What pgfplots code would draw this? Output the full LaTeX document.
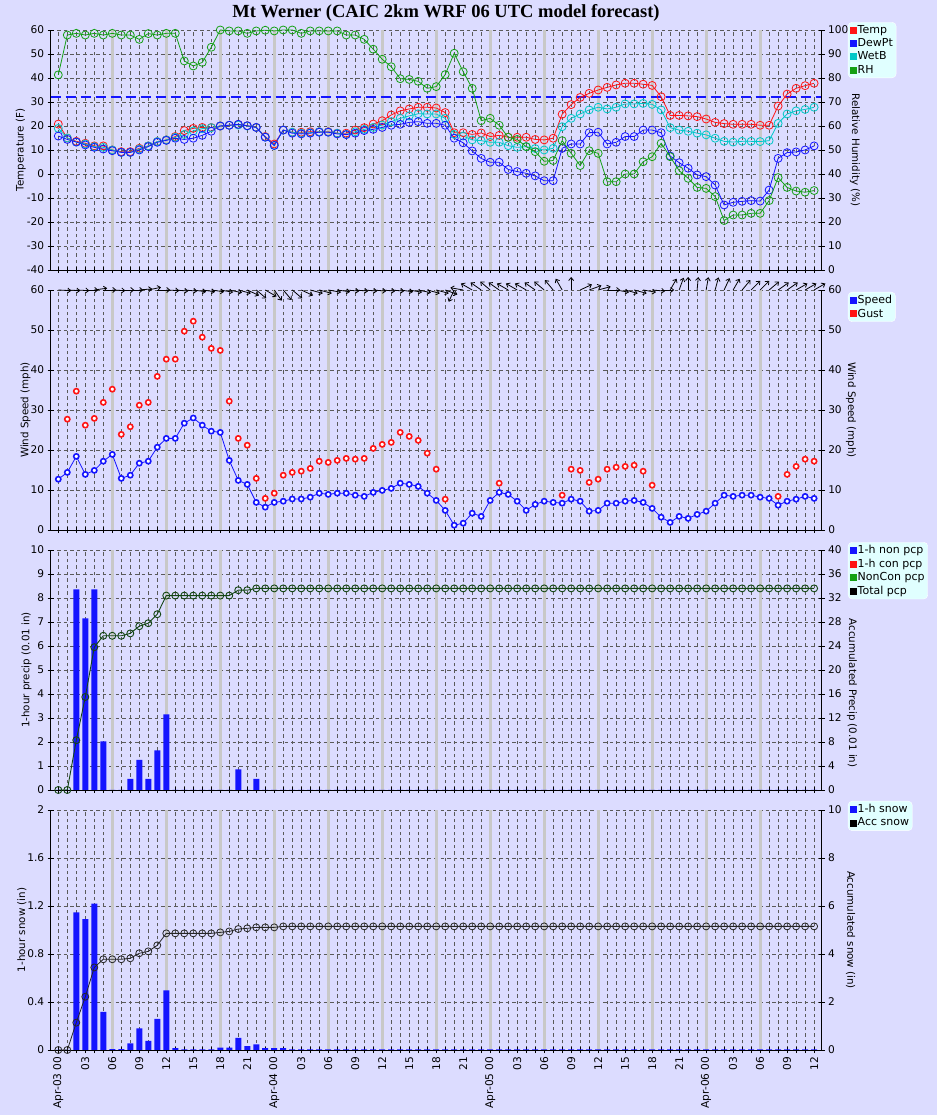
\documentclass[border=0pt]{standalone}
\usepackage{pgfplots}
\pgfplotsset{compat=1.18}
\usepackage{pgfplotstable}
\usepackage{fontspec}
\setmainfont{DejaVu Sans}
\newfontfamily\titlefont{Liberation Serif}
\usetikzlibrary{arrows.meta}
\definecolor{bg}{RGB}{220,220,255}
\definecolor{legbg}{RGB}{224,255,255}
\definecolor{gbar}{RGB}{200,200,200}
\definecolor{cT}{RGB}{255,20,20}
\definecolor{cD}{RGB}{20,20,255}
\definecolor{cW}{RGB}{0,200,200}
\definecolor{cR}{RGB}{20,160,20}
\definecolor{cA}{RGB}{20,70,20}
\definecolor{gridc}{RGB}{90,90,90}

\pgfplotstableread{
h T D W RH
0 20.8 15.8 19.0 81.3
1 15.0 14.4 15.0 97.9
2 13.6 13.3 13.3 98.6
3 12.8 12.1 12.5 97.9
4 11.7 11.1 11.4 98.6
5 11.7 10.4 11.1 97.9
6 10.0 9.7 10.0 98.6
7 9.3 9.0 9.0 97.9
8 9.3 9.0 9.0 97.9
9 10.7 10.0 10.4 96.1
10 11.7 11.4 11.7 98.5
11 13.5 13.2 13.5 97.9
12 14.2 14.0 14.2 98.6
13 15.6 14.9 15.3 98.6
14 18.1 14.4 16.5 87.1
15 19.0 14.9 17.9 85.0
16 19.4 16.1 18.9 86.5
17 19.4 17.8 19.3 92.8
18 20.0 20.0 20.0 100
19 20.3 20.3 20.3 99.6
20 20.6 20.7 20.4 99.6
21 20.1 20.1 20.0 98.6
22 19.4 19.4 19.4 99.6
23 15.6 15.3 15.4 99.9
24 12.5 11.9 11.9 99.6
25 18.3 18.3 18.3 100
26 17.4 17.0 17.4 100
27 17.4 16.7 17.0 98.6
28 17.6 17.0 17.2 99.6
29 17.6 17.4 17.6 99.6
30 17.6 17.4 17.5 99.6
31 17.0 16.7 17.0 99.6
32 17.0 16.4 16.5 97.9
33 18.3 17.0 17.6 97.9
34 19.3 18.1 18.6 96.1
35 20.8 18.6 19.4 92.0
36 22.2 19.4 20.4 87.8
37 24.6 20.3 21.8 84.7
38 26.3 20.7 23.2 79.7
39 27.1 21.5 24.2 79.4
40 27.8 21.8 25.1 78.6
41 27.8 21.1 25.0 75.7
42 27.5 21.1 25.0 76.4
43 25.6 20.3 23.2 81.4
44 17.2 14.9 16.5 90.3
45 17.2 13.0 15.8 82.6
46 16.5 9.6 14.2 75.7
47 17.1 6.5 13.9 62.2
48 15.6 4.9 13.2 63.2
49 16.1 4.9 13.2 60.3
50 15.3 1.9 11.8 55.3
51 15.3 1.0 11.1 54.4
52 15.3 0.3 11.4 51.4
53 14.4 -0.8 10.6 49.3
54 14.2 -2.8 10.0 45.3
55 14.9 -2.8 10.7 45.6
56 24.9 10.7 19.7 53.9
57 28.9 12.5 23.2 48.6
58 31.9 12.5 25.0 43.5
59 33.6 17.2 26.7 49.7
60 35.0 17.4 27.8 48.6
61 36.1 12.5 27.1 36.8
62 37.1 13.2 27.8 36.8
63 37.8 15.6 29.2 40.0
64 37.8 15.6 29.2 40.0
65 37.4 18.3 29.4 45.1
66 36.9 18.3 29.0 47.2
67 32.2 17.2 26.7 52.8
68 24.4 7.5 19.3 47.2
69 24.4 4.7 18.3 41.4
70 24.2 2.4 17.8 38.2
71 23.9 -0.4 17.0 34.4
72 22.9 -1.1 16.3 34.0
73 21.5 -4.6 14.9 30.6
74 21.0 -12.9 13.6 20.6
75 20.7 -11.8 13.3 22.9
76 20.7 -11.4 13.6 22.9
77 20.7 -11.1 13.6 23.6
78 20.3 -11.3 13.5 23.6
79 20.3 -6.7 13.9 28.9
80 28.3 6.5 21.1 38.5
81 33.3 8.9 25.0 34.4
82 35.7 9.2 26.3 32.9
83 36.8 10.0 26.9 32.4
84 37.8 11.7 27.8 33.1
}\tdata

\pgfplotstableread{
h S G A
0 12.7 nan -3
1 14.4 27.7 -3
2 18.4 34.7 -3
3 13.9 26.2 0
4 14.9 27.9 8
5 17.2 31.9 0
6 18.9 35.2 -3
7 12.9 23.9 0
8 13.7 25.8 0
9 16.7 31.2 5
10 17.2 31.9 12
11 20.7 38.4 0
12 22.9 42.7 -3
13 22.9 42.7 -5
14 26.7 49.7 -5
15 28.0 52.2 -8
16 26.2 48.2 -8
17 24.7 45.4 -8
18 24.4 44.9 -10
19 17.4 32.2 -12
20 12.4 22.9 -15
21 11.4 21.2 -25
22 6.9 12.9 -40
23 5.7 7.9 -30
24 6.9 9.2 -55
25 7.2 13.7 -50
26 7.75 14.4 -40
27 7.75 14.7 -25
28 8.2 15.4 -15
29 9.2 17.2 -15
30 8.9 16.9 -10
31 9.2 17.4 -8
32 9.2 17.9 -5
33 8.7 17.7 -5
34 8.4 17.9 -5
35 9.4 20.4 -5
36 9.9 21.4 -5
37 10.4 21.9 -5
38 11.7 24.4 -8
39 11.4 23.4 -10
40 10.9 22.4 -12
41 9.2 19.2 -15
42 7.4 15.2 -15
43 4.9 7.7 -20
44 1.2 nan -115
45 1.7 nan 170
46 4.2 nan 150
47 3.4 nan 145
48 7.4 nan 140
49 9.4 11.7 145
50 8.9 nan 150
51 7.2 nan 150
52 4.9 nan 150
53 6.4 nan 145
54 7.2 nan 140
55 6.9 nan 130
56 6.7 8.7 120
57 7.7 15.2 90
58 7.2 14.9 25
59 4.7 11.9 20
60 4.9 12.7 15
61 6.7 15.2 0
62 6.7 15.7 -10
63 7.2 15.9 -15
64 7.4 16.2 -15
65 6.9 14.7 -10
66 5.4 11.2 -5
67 3.2 nan 0
68 1.9 nan 60
69 3.4 nan 70
70 2.9 nan 90
71 3.9 nan 85
72 4.7 nan 80
73 6.7 nan 75
74 8.7 nan 65
75 8.4 nan 60
76 8.7 nan 50
77 8.7 nan 45
78 8.2 nan 45
79 7.9 nan 40
80 6.2 8.4 35
81 7.2 13.9 35
82 7.7 15.9 30
83 8.4 17.7 30
84 7.9 17.2 30
}\wdata

\pgfplotstableread{
h P A
0 0 0
1 0 0
2 8.36 8.3
3 7.15 15.5
4 8.36 23.8
5 2.03 25.7
6 0 25.7
7 0 25.7
8 0.46 26.1
9 1.25 27.3
10 0.46 27.8
11 1.65 29.3
12 3.15 32.4
13 0 32.4
14 0 32.4
15 0 32.4
16 0 32.4
17 0 32.4
18 0 32.4
19 0 32.4
20 0.86 33.3
21 0 33.3
22 0.46 33.6
23 0 33.6
24 0 33.6
25 0 33.6
26 0 33.6
27 0 33.6
28 0 33.6
29 0 33.6
30 0 33.6
31 0 33.6
32 0 33.6
33 0 33.6
34 0 33.6
35 0 33.6
36 0 33.6
37 0 33.6
38 0 33.6
39 0 33.6
40 0 33.6
41 0 33.6
42 0 33.6
43 0 33.6
44 0 33.6
45 0 33.6
46 0 33.6
47 0 33.6
48 0 33.6
49 0 33.6
50 0 33.6
51 0 33.6
52 0 33.6
53 0 33.6
54 0 33.6
55 0 33.6
56 0 33.6
57 0 33.6
58 0 33.6
59 0 33.6
60 0 33.6
61 0 33.6
62 0 33.6
63 0 33.6
64 0 33.6
65 0 33.6
66 0 33.6
67 0 33.6
68 0 33.6
69 0 33.6
70 0 33.6
71 0 33.6
72 0 33.6
73 0 33.6
74 0 33.6
75 0 33.6
76 0 33.6
77 0 33.6
78 0 33.6
79 0 33.6
80 0 33.6
81 0 33.6
82 0 33.6
83 0 33.6
84 0 33.6
}\pdata

\pgfplotstableread{
h S A
0 0 0
1 0 0
2 1.147 1.14
3 1.09 2.22
4 1.22 3.44
5 0.317 3.78
6 0.008 3.78
7 0.008 3.78
8 0.056 3.82
9 0.18 4.03
10 0.075 4.11
11 0.26 4.36
12 0.497 4.86
13 0.015 4.86
14 0.006 4.86
15 0.006 4.86
16 0.006 4.86
17 0.006 4.86
18 0.02 4.90
19 0.02 4.94
20 0.10 5.04
21 0.033 5.07
22 0.047 5.11
23 0.015 5.11
24 0.015 5.11
25 0.015 5.15
26 0.005 5.15
27 0.005 5.15
28 0.005 5.15
29 0.005 5.15
30 0.005 5.15
31 0.005 5.15
32 0.005 5.15
33 0.005 5.15
34 0.005 5.15
35 0.005 5.15
36 0.005 5.15
37 0.005 5.15
38 0.005 5.15
39 0.005 5.15
40 0.005 5.15
41 0.005 5.15
42 0.005 5.15
43 0.005 5.15
44 0.005 5.15
45 0.005 5.15
46 0.005 5.15
47 0.005 5.15
48 0.005 5.15
49 0.005 5.15
50 0.005 5.15
51 0.005 5.15
52 0.005 5.15
53 0.005 5.15
54 0.005 5.15
55 0.005 5.15
56 0.005 5.15
57 0.005 5.15
58 0.005 5.15
59 0.005 5.15
60 0.005 5.15
61 0.005 5.15
62 0.005 5.15
63 0.005 5.15
64 0.005 5.15
65 0.005 5.15
66 0.005 5.15
67 0.005 5.15
68 0.005 5.15
69 0.005 5.15
70 0.005 5.15
71 0.005 5.15
72 0.005 5.15
73 0.005 5.15
74 0.005 5.15
75 0.005 5.15
76 0.005 5.15
77 0.005 5.15
78 0.005 5.15
79 0.005 5.15
80 0.005 5.15
81 0.005 5.15
82 0.005 5.15
83 0.005 5.15
84 0.005 5.15
}\sdata

\pgfplotsset{
 base/.style={scale only axis, width=771pt, height=240pt, xmin=-0.845, xmax=84.845, anchor=north west,
   /pgf/number format/assume math mode=true,
   tick label style={font=\fontsize{10.6}{12}\selectfont},
   label style={font=\fontsize{10.3}{12}\selectfont, inner sep=0pt},
   axis line style={-, black, line width=0.8pt},
   tick style={black, line width=0.7pt},
   tick align=center, major tick length=6pt, minor tick length=6pt,
   xtick={0,3,...,84}, minor x tick num=2,
   legend image code/.code={\fill[##1, sharp corners] (0pt,-3pt) rectangle (6pt,3pt);},
   legend style={fill=legbg, draw=white, rounded corners=4pt, font=\fontsize{11}{12}\selectfont, anchor=north west, inner sep=2pt, row sep=1.3pt, nodes={inner sep=1.2pt}},
   legend cell align=left,
 },
 lpanel/.style={base, axis x line*=bottom, axis y line*=left, grid=both,
   grid style={gridc, dash pattern=on 3.5pt off 3pt, line width=0.55pt}, xticklabels={},
   ylabel style={at={(rel axis cs:0,0.5)}, anchor=south}},
 rpanel/.style={base, axis x line=none, axis y line*=right,
   ylabel style={at={(rel axis cs:1,0.5)}, anchor=south, rotate=180}},
}

\begin{document}
\begin{tikzpicture}
\fill[bg] (0,0) rectangle (937pt,1115pt);
\useasboundingbox (0,0) rectangle (937pt,1115pt);
\node[font=\titlefont\bfseries\fontsize{18.5}{20}\selectfont] at (446pt,1102pt) {Mt Werner (CAIC 2km WRF 06 UTC model forecast)};

% ---------------- Panel 1
\begin{axis}[lpanel, at={(50.7pt,1085pt)}, ymin=-40, ymax=60, ytick={-40,-30,...,60},
  ylabel={Temperature (F)}, ylabel style={yshift=24.7pt}]
\pgfplotsinvokeforeach{6,12,...,78}{\draw[gbar, line width=3pt] (axis cs:#1,-40) -- (axis cs:#1,60);}
\addplot[cD, line width=2.4pt, dash pattern=on 10pt off 5pt] coordinates {(-0.845,32) (84.845,32)};
\addplot[cT, line width=0.8pt, mark=o, mark size=4pt] table[x=h,y=T]{\tdata};
\addplot[cW, line width=0.8pt, mark=o, mark size=4pt] table[x=h,y=W]{\tdata};
\addplot[cD, line width=0.8pt, mark=o, mark size=4pt] table[x=h,y=D]{\tdata};
\end{axis}
\begin{axis}[rpanel, at={(50.7pt,1085pt)}, ymin=0, ymax=100, ytick={0,10,...,100},
  ylabel={Relative Humidity (\%)}, ylabel style={yshift=28pt},
  legend style={at={(1.034,1.033)}}]
\addplot[cR, line width=0.8pt, mark=o, mark size=4pt, forget plot] table[x=h,y=RH]{\tdata};
\addlegendimage{cT}\addlegendentry{Temp}
\addlegendimage{cD}\addlegendentry{DewPt}
\addlegendimage{cW}\addlegendentry{WetB}
\addlegendimage{cR}\addlegendentry{RH}
\end{axis}

% ---------------- Panel 2
\begin{axis}[lpanel, at={(50.7pt,825pt)}, ymin=0, ymax=60, ytick={0,10,...,60}, clip=false,
  ylabel={Wind Speed (mph)}, ylabel style={yshift=20pt}]
\pgfplotsinvokeforeach{6,12,...,78}{\draw[gbar, line width=3pt] (axis cs:#1,0) -- (axis cs:#1,60);}
\addplot[cD, line width=0.8pt, mark=*, mark size=2.6pt, mark options={fill=white, draw=cD, line width=1.6pt}] table[x=h,y=S]{\wdata};
\addplot[only marks, mark=*, mark size=2.6pt, mark options={fill=white, draw=cT, line width=1.6pt}, unbounded coords=discard] table[x=h,y=G]{\wdata};
\addplot[black, line width=0.8pt, quiver={u={1.444*cos(\thisrow{A})}, v={3.25*sin(\thisrow{A})}, every arrow/.append style={-{Straight Barb[length=3pt,width=5pt]}}}] table[x=h, y expr=60]{\wdata};
\end{axis}
\begin{axis}[rpanel, at={(50.7pt,825pt)}, ymin=0, ymax=60, ytick={0,10,...,60},
  ylabel={Wind Speed (mph)}, ylabel style={yshift=24pt},
  legend style={at={(1.034,0.992)}}]
\addlegendimage{cD}\addlegendentry{Speed}
\addlegendimage{cT}\addlegendentry{Gust}
\end{axis}

% ---------------- Panel 3
\begin{axis}[lpanel, at={(50.7pt,565pt)}, ymin=0, ymax=10, ytick={0,1,...,10},
  ylabel={1-hour precip (0.01 in)}, ylabel style={yshift=19pt}]
\pgfplotsinvokeforeach{6,12,...,78}{\draw[gbar, line width=3pt] (axis cs:#1,0) -- (axis cs:#1,10);}
\addplot[ybar, bar width=6pt, fill=cD, draw=none] table[x=h,y=P]{\pdata};
\end{axis}
\begin{axis}[rpanel, at={(50.7pt,565pt)}, ymin=0, ymax=40, ytick={0,4,...,40},
  ylabel={Accumulated Precip (0.01 in)}, ylabel style={at={(rel axis cs:1,0.404)}, yshift=25pt},
  legend style={at={(1.034,1.033)}}]
\addplot[cA, line width=0.9pt, mark=o, mark size=3.5pt, forget plot] table[x=h,y=A]{\pdata};
\addlegendimage{cD}\addlegendentry{1-h non pcp}
\addlegendimage{cT}\addlegendentry{1-h con pcp}
\addlegendimage{cR}\addlegendentry{NonCon pcp}
\addlegendimage{black}\addlegendentry{Total pcp}
\end{axis}

% ---------------- Panel 4
\begin{axis}[lpanel, at={(50.7pt,305pt)}, ymin=0, ymax=2, ytick={0,0.4,0.8,1.2,1.6,2},
  yticklabels={0,0.4,0.8,1.2,1.6,2},
  xticklabels={Apr-03 00,03,06,09,12,15,18,21,Apr-04 00,03,06,09,12,15,18,21,Apr-05 00,03,06,09,12,15,18,21,Apr-06 00,03,06,09,12},
  xticklabel style={rotate=90, anchor=east},
  ylabel={1-hour snow (in)}, ylabel style={yshift=24pt}]
\pgfplotsinvokeforeach{6,12,...,78}{\draw[gbar, line width=3pt] (axis cs:#1,0) -- (axis cs:#1,2);}
\addplot[ybar, bar width=6pt, fill=cD, draw=none] table[x=h,y=S]{\sdata};
\end{axis}
\begin{axis}[rpanel, at={(50.7pt,305pt)}, ymin=0, ymax=10, ytick={0,2,...,10},
  ylabel={Accumulated snow (in)}, ylabel style={yshift=24pt},
  legend style={at={(1.034,1.0375)}}]
\addplot[black!85, line width=0.8pt, mark=o, mark size=3.5pt, forget plot] table[x=h,y=A]{\sdata};
\addlegendimage{cD}\addlegendentry{1-h snow}
\addlegendimage{black}\addlegendentry{Acc snow}
\end{axis}
\end{tikzpicture}
\end{document}
